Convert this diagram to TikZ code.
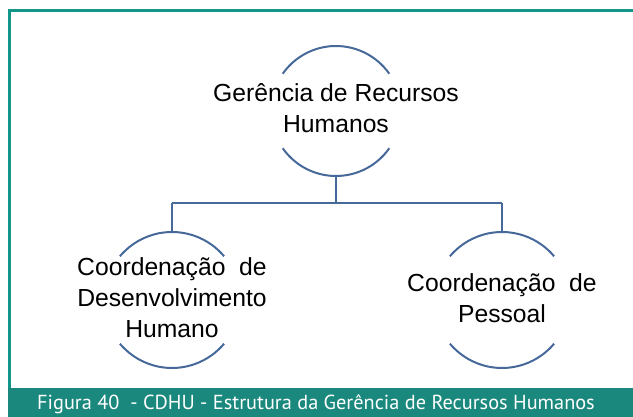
\documentclass[tikz,border=0pt]{standalone}
\usepackage{fontspec}
\setmainfont{Liberation Sans}
\newfontfamily\capfont{PT Sans}
\definecolor{frameteal}{HTML}{13968A}
\definecolor{bandteal}{HTML}{1B887E}
\definecolor{arcblue}{HTML}{46699A}
\begin{document}
\begin{tikzpicture}[x=1pt,y=-1pt,
  arcline/.style={draw=arcblue,line width=2pt},
  conn/.style={draw=arcblue,line width=2pt},
  lbl/.style={align=center,font=\fontsize{24.7}{31}\selectfont,text=black,inner sep=0pt}]
\useasboundingbox (0,0) rectangle (633,417);
% frame
\draw[frameteal,line width=3pt] (9.5,388) -- (9.5,10.5) -- (633,10.5);
\fill[bandteal] (8,388) rectangle (633,417);
\node[text=white,font=\capfont\fontsize{20.3}{22}\selectfont,inner sep=0pt] (cap) at (316,404) {Figura 40\ \ - CDHU - Estrutura da Ger\^encia de Recursos Humanos};
% circles (arcs)
\coordinate (ctop) at (336,111);
\coordinate (cleft) at (172,300);
\coordinate (cright) at (502,300);
\draw[arcline] ([shift={(-35:65pt)}]ctop) arc[start angle=-35,end angle=-145,radius=65pt];
\draw[arcline] ([shift={(35:65pt)}]ctop) arc[start angle=35,end angle=145,radius=65pt];
\draw[arcline] ([shift={(-40:68pt)}]cleft) arc[start angle=-40,end angle=-140,radius=68pt];
\draw[arcline] ([shift={(40:68pt)}]cleft) arc[start angle=40,end angle=140,radius=68pt];
\draw[arcline] ([shift={(-40:68pt)}]cright) arc[start angle=-40,end angle=-140,radius=68pt];
\draw[arcline] ([shift={(40:68pt)}]cright) arc[start angle=40,end angle=140,radius=68pt];
% labels
\node[lbl] (grh) at (336,108) {Ger\^encia de Recursos\\Humanos};
\node[lbl] (cdh) at (172,298) {Coordena\c{c}\~ao\ \ de\\Desenvolvimento\\Humano};
\node[lbl] (cp) at (502,298) {Coordena\c{c}\~ao\ \ de\\Pessoal};
% connectors
\coordinate (jt) at (336,203);
\coordinate (jl) at (172,203);
\coordinate (jr) at (502,203);
\draw[conn] ([yshift=-65pt]ctop) -- (jt);
\draw[conn] (jl) -- (jr);
\draw[conn] (jl) -- ([yshift=68pt]cleft);
\draw[conn] (jr) -- ([yshift=68pt]cright);
\end{tikzpicture}
\end{document}
